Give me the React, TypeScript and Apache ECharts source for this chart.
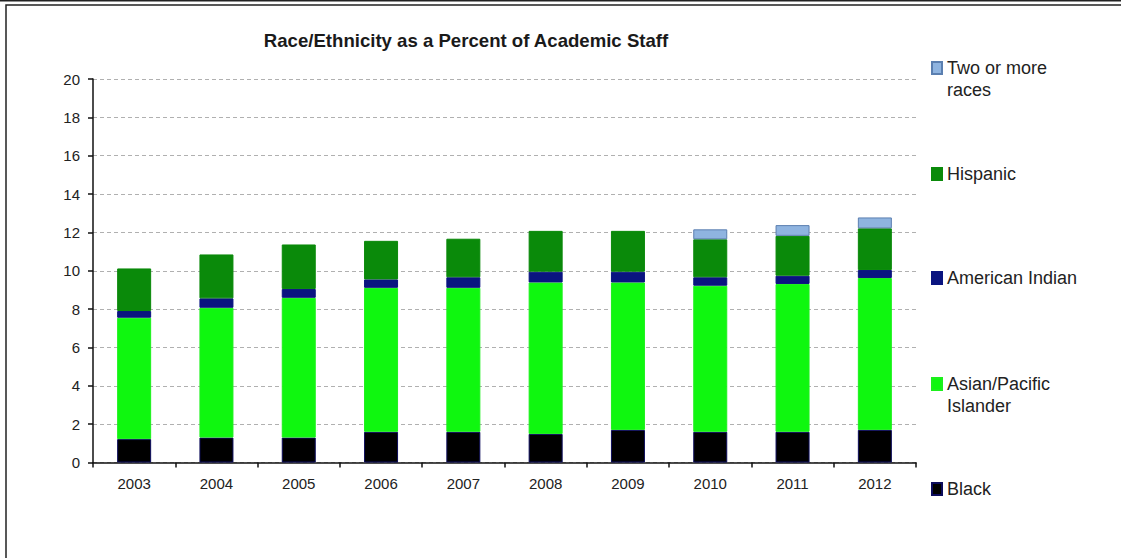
import React, { useEffect, useRef } from "react";
import * as echarts from "echarts";

const years = ["2003", "2004", "2005", "2006", "2007", "2008", "2009", "2010", "2011", "2012"];
const black = [1.22, 1.3, 1.3, 1.6, 1.6, 1.49, 1.7, 1.6, 1.6, 1.7];
const asianPacific = [6.33, 6.77, 7.29, 7.51, 7.51, 7.9, 7.69, 7.62, 7.71, 7.92];
const americanIndian = [0.35, 0.49, 0.46, 0.44, 0.55, 0.56, 0.56, 0.44, 0.43, 0.42];
const hispanic = [2.22, 2.29, 2.32, 2.01, 2.01, 2.13, 2.13, 1.98, 2.08, 2.17];
const twoOrMore = [null, null, null, null, null, null, null, 0.52, 0.56, 0.57];

const titleText = "Race/Ethnicity as a Percent of Academic Staff";
const seriesNames = ["Black", "Asian/Pacific Islander", "American Indian", "Hispanic", "Two or more races"];
const legendLabels: Record<string, string> = {
  "Two or more races": "\nTwo or more\nraces",
  Hispanic: "Hispanic",
  "American Indian": "American Indian",
  "Asian/Pacific Islander": "\nAsian/Pacific\nIslander",
  Black: "Black",
};

const FONT = "'Liberation Sans', Arial, sans-serif";

export default function App() {
  const ref = useRef<HTMLDivElement>(null);
  useEffect(() => {
    if (!ref.current) return;
    const chart = echarts.init(ref.current, null, { renderer: "svg" });
    const colors: Record<string, { fill: string; border: string }> = {
      Black: { fill: "#000000", border: "#0c0c5c" },
      "Asian/Pacific Islander": { fill: "#0ff70f", border: "#1cf01c" },
      "American Indian": { fill: "#0a1480", border: "#0a1480" },
      Hispanic: { fill: "#0a8a0a", border: "#0a8a0a" },
      "Two or more races": { fill: "#8fb4e0", border: "#5b7fb0" },
    };
    const dataMap: Record<string, (number | null)[]> = {
      Black: black,
      "Asian/Pacific Islander": asianPacific,
      "American Indian": americanIndian,
      Hispanic: hispanic,
      "Two or more races": twoOrMore,
    };
    const lh = 22;
    const legendItems = [
      { name: "Two or more races", center: 68, lines: 3 },
      { name: "Hispanic", center: 174, lines: 1 },
      { name: "American Indian", center: 278, lines: 1 },
      { name: "Asian/Pacific Islander", center: 384, lines: 3 },
      { name: "Black", center: 489, lines: 1 },
    ];
    chart.setOption({
      animation: false,
      backgroundColor: "#ffffff",
      title: {
        text: titleText,
        left: 461,
        top: 26,
        textAlign: "center",
        textStyle: {
          fontFamily: FONT,
          fontWeight: "bold",
          fontSize: 18.6,
          color: "#1a1a1a",
        },
      },
      legend: legendItems.map((it) => ({
        data: [it.name],
        orient: "vertical",
        left: 931,
        top: it.center - 6 - (it.lines * lh) / 2 + 6,
        padding: 0,
        itemWidth: 10,
        itemHeight: 12,
        icon: "rect",
        selectedMode: false,
        formatter: (n: string) => legendLabels[n],
        textStyle: {
          fontFamily: FONT,
          fontSize: 18,
          lineHeight: lh,
          color: "#222222",
        },
      })),
      grid: { left: 93, right: 205, top: 79, bottom: 95.5, containLabel: false },
      xAxis: {
        type: "category",
        data: years,
        boundaryGap: true,
        axisLine: { lineStyle: { color: "#111111", width: 1.5 } },
        axisTick: { show: true, length: 5, alignWithLabel: false, lineStyle: { color: "#111111", width: 1.5 } },
        axisLabel: { fontFamily: FONT, fontSize: 15, color: "#222222", margin: 13 },
        splitLine: { show: false },
      },
      yAxis: {
        type: "value",
        min: 0,
        max: 20,
        interval: 2,
        axisLine: { show: true, lineStyle: { color: "#111111", width: 1.5 } },
        axisTick: { show: true, length: 5, lineStyle: { color: "#111111", width: 1.5 } },
        axisLabel: { fontFamily: FONT, fontSize: 15, color: "#222222", margin: 13 },
        splitLine: { show: true, lineStyle: { color: "#b0b0b0", type: [4, 3], width: 1 } },
      },
      graphic: [
        { type: "line", shape: { x1: 0, y1: 0.75, x2: 1121, y2: 0.75 }, style: { stroke: "#222222", lineWidth: 1.5 }, z: 100 },
        { type: "rect", shape: { x: 6, y: 5, width: 1300, height: 700 }, style: { fill: "none", stroke: "#222222", lineWidth: 1.5 }, z: 100 },
      ],
      series: seriesNames.map((name) => ({
        name,
        type: "bar",
        stack: "total",
        barWidth: 34,
        data: dataMap[name],
        itemStyle: { color: colors[name].fill, borderColor: colors[name].border, borderWidth: 1 },
        emphasis: { disabled: true },
      })),
    });
    return () => chart.dispose();
  }, []);
  return (
    <div
      ref={ref}
      style={{ position: "fixed", left: 0, top: 0, width: 1121, height: 558, background: "#fff" }}
    />
  );
}
